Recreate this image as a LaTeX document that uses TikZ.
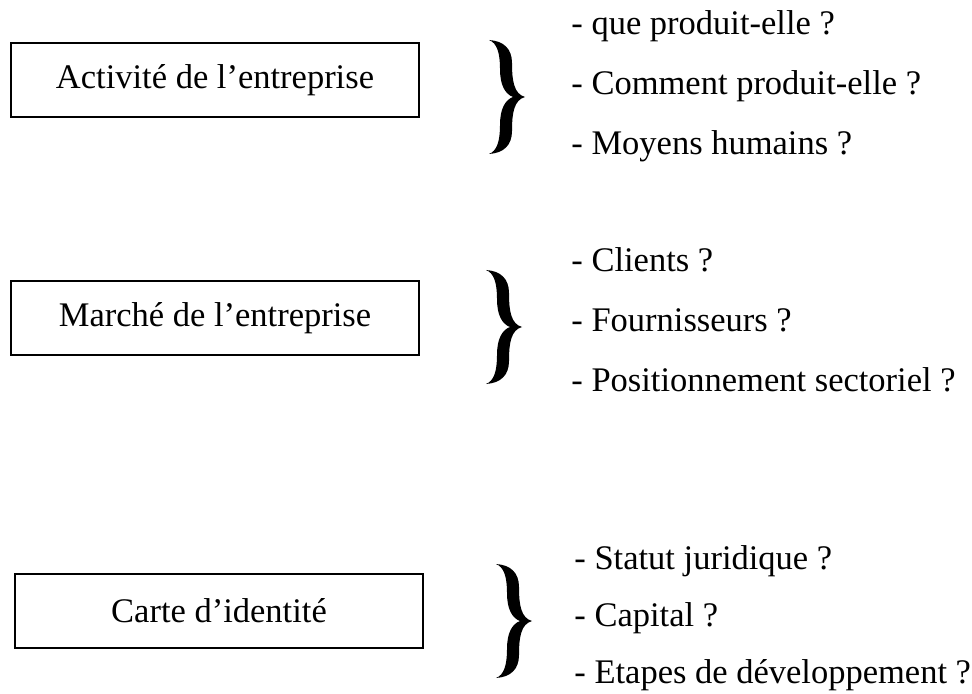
\documentclass[tikz,border=0pt]{standalone}
\usepackage{fontspec}
\setmainfont{Liberation Serif}
\usetikzlibrary{positioning}

\begin{document}
\begin{tikzpicture}[
		x=0.5pt,
		y=-0.5pt,
		node distance=30pt,
		main node/.style={font=\fontsize{17.25pt}{20pt}\selectfont}
		,
		box node/.style={
			main node,
			draw,
			line width=1pt,
			minimum width=204pt,
			minimum height=37pt,
			inner sep=0pt
		},
		item node/.style={main node, inner sep=0pt}
		]
		\useasboundingbox (0,0) rectangle (972,694);
		
		\node[box node] (act) at (215,80) {Activité de l’entreprise};
		\node[box node] (mar) at (215,318) {Marché de l’entreprise};
		\node[box node] (id) at (219,611) {Carte d’identité};
		
		% braces: left end x, tip y
		\foreach \bx/\by in {489/97, 486/327, 496/621}
		\fill[shift={(\bx,\by)}]
		(0,-57) .. controls (15,-56) and (23,-48) .. (23,-34)
		.. controls (23,-16) and (25,-3) .. (36,0)
		.. controls (25,3) and (23,16) .. (23,34)
		.. controls (23,48) and (15,56) .. (0,57)
		.. controls (8,54) and (11,44) .. (11,28)
		.. controls (11,12) and (16,3) .. (24,0)
		.. controls (16,-3) and (11,-12) .. (11,-28)
		.. controls (11,-44) and (8,-54) .. (0,-57) -- cycle;
		
		\node[item node, anchor=base west] (a1) at (571,35) {- que produit-elle ?};
		\node[item node] (a2) [below=of a1.base west, anchor=base west] {- Comment produit-elle ?};
		\node[item node] (a3) [below=of a2.base west, anchor=base west] {- Moyens humains ?};
		
		\node[item node, anchor=base west] (m1) at (571,272) {- Clients ?};
		\node[item node] (m2) [below=of m1.base west, anchor=base west] {- Fournisseurs ?};
		\node[item node] (m3) [below=of m2.base west, anchor=base west] {- Positionnement sectoriel ?};
		
		% third list a little tighter, as in the scan
		\node[item node, anchor=base west] (c1) at (574,569) {- Statut juridique ?};
		\node[item node] (c2) [below=28.5pt of c1.base west, anchor=base west] {- Capital ?};
		\node[item node] (c3) [below=28.5pt of c2.base west, anchor=base west] {- Etapes de développement ?};
	\end{tikzpicture}
\end{document}
